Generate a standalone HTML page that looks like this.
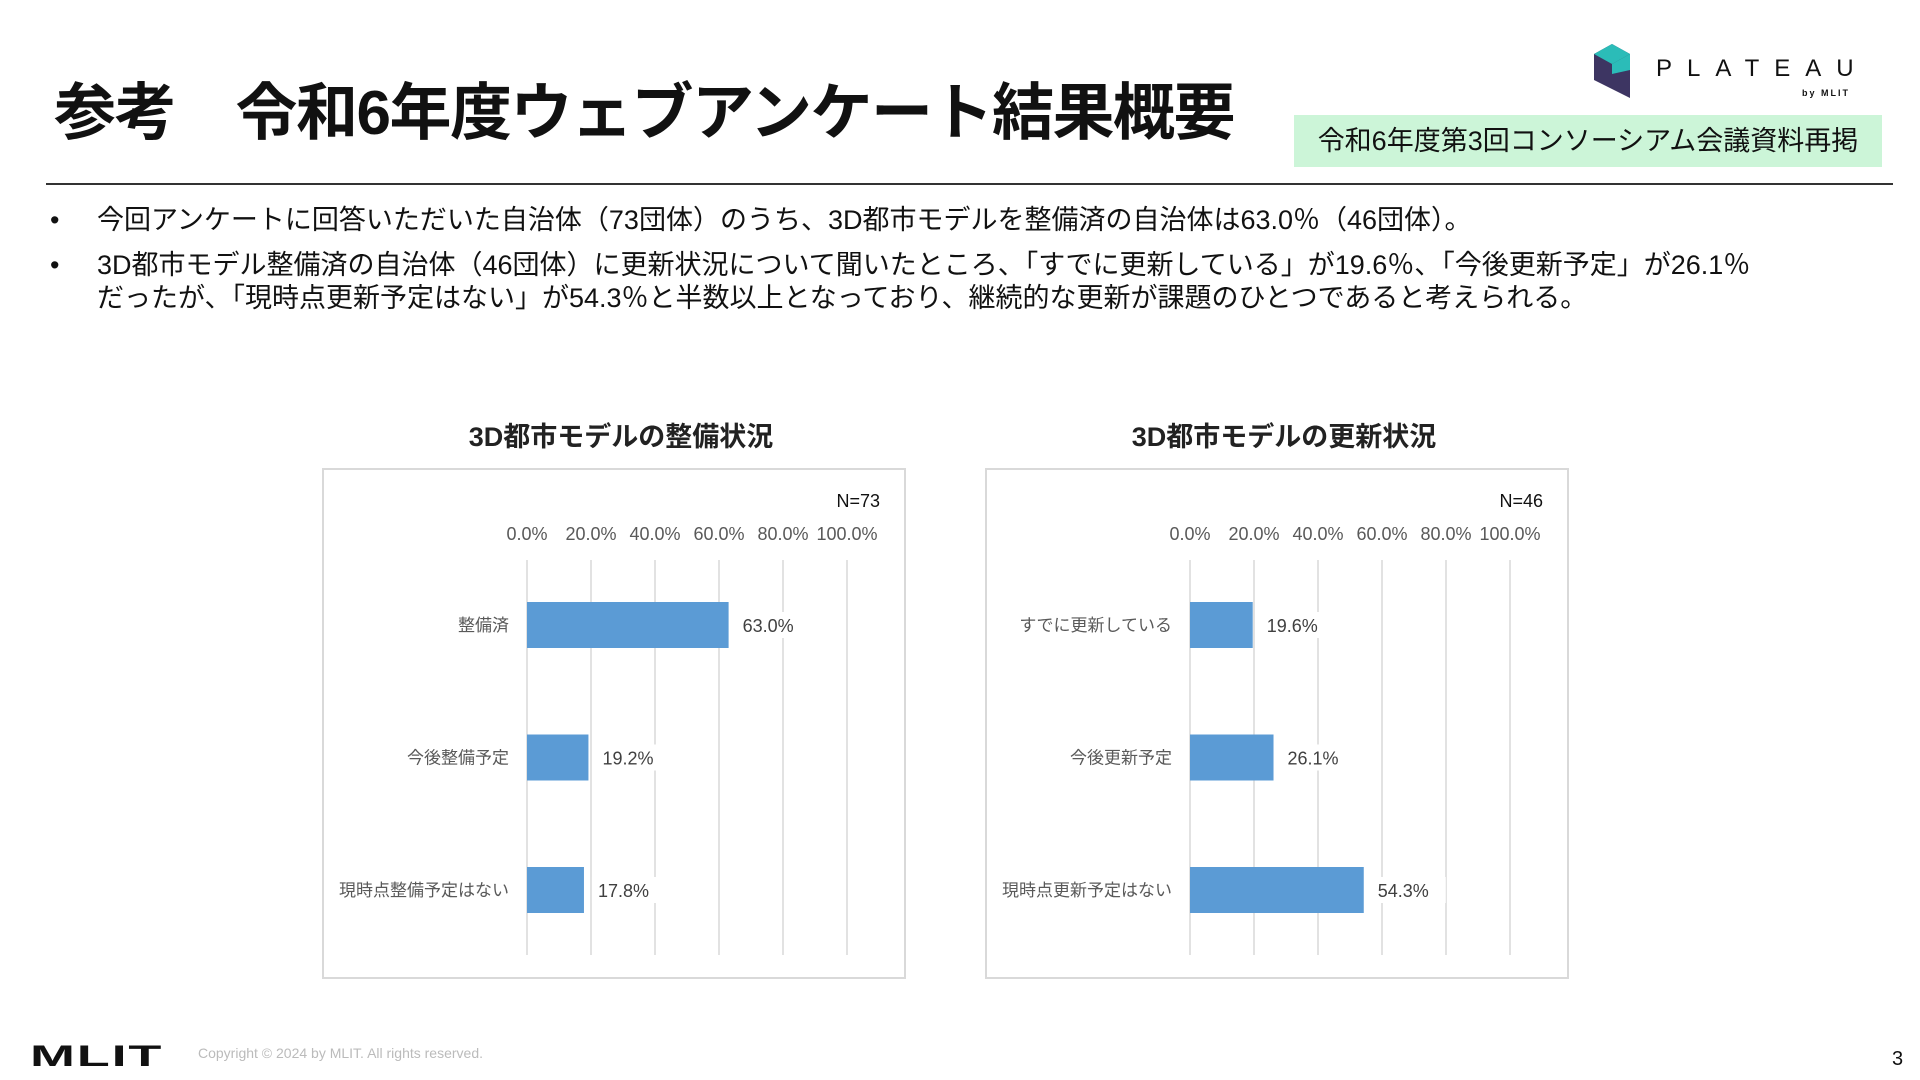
<!DOCTYPE html>
<html><head><meta charset="utf-8">
<style>
body{margin:0;width:1920px;height:1080px;background:#fff;position:relative;overflow:hidden;font-family:"Liberation Sans","Noto Sans CJK JP",sans-serif;color:#111}
.abs{position:absolute}
</style></head><body>
<div class="abs" style="left:54px;top:62px;font-size:62px;font-weight:bold;letter-spacing:-1.5px;white-space:nowrap">参考　令和6年度ウェブアンケート結果概要</div>
<div class="abs" style="left:1294px;top:115px;width:588px;height:52px;background:#ccf5d8;font-size:27px;line-height:52px;text-align:center;white-space:nowrap">令和6年度第3回コンソーシアム会議資料再掲</div>
<svg class="abs" style="left:1590px;top:40px" width="300" height="64" viewBox="0 0 300 64">
<polygon points="4,14 22,4 40,14 40,58 4,40" fill="#3d3562"/>
<polygon points="4,14 22,4 40,14 22,24" fill="#2bbcb8"/>
<polygon points="22,24 40,14 40,30 22,34" fill="#2bbcb8"/>
<text x="66" y="36" font-size="24" letter-spacing="15" fill="#111" font-family="Liberation Sans">PLATEAU</text>
<text x="212" y="56" font-size="9" fill="#111" font-weight="bold" letter-spacing="2">by MLIT</text>
</svg>
<div class="abs" style="left:46px;top:183px;width:1847px;height:2px;background:#333"></div>
<div class="abs" style="left:50px;top:204px;font-size:27px;line-height:33px;white-space:nowrap">
<div style="position:relative;height:33px"><span>•</span><span style="position:absolute;left:47px;top:0">今回アンケートに回答いただいた自治体（73団体）のうち、3D都市モデルを整備済の自治体は63.0％（46団体）。</span></div>
<div style="position:relative;margin-top:12px;height:66px"><span>•</span><span style="position:absolute;left:47px;top:0">3D都市モデル整備済の自治体（46団体）に更新状況について聞いたところ、「すでに更新している」が19.6％、「今後更新予定」が26.1％<br>だったが、「現時点更新予定はない」が54.3％と半数以上となっており、継続的な更新が課題のひとつであると考えられる。</span></div>
</div>
<svg class="abs" id="charts" style="left:0;top:0" width="1920" height="1080"></svg>
<div class="abs" style="left:30px;top:1040px;font-size:30px;font-weight:900;letter-spacing:1px;transform:scaleX(1.8);transform-origin:left">MLIT</div>
<div class="abs" style="left:198px;top:1045px;font-size:14px;color:#bbb">Copyright © 2024 by MLIT. All rights reserved.</div>
<div class="abs" style="left:1892px;top:1048px;font-size:20px">3</div>
<script>
const chart1Categories=["整備済","今後整備予定","現時点整備予定はない"];
const chart1Values=[63.0,19.2,17.8];
const chart2Categories=["すでに更新している","今後更新予定","現時点更新予定はない"];
const chart2Values=[19.6,26.1,54.3];
const tickValues=[0,20,40,60,80,100];
const tickLabels=["0.0%","20.0%","40.0%","60.0%","80.0%","100.0%"];
const svg=document.getElementById('charts');
const NS='http://www.w3.org/2000/svg';
function mk(t,a,txt){const e=document.createElementNS(NS,t);for(const k in a)e.setAttribute(k,a[k]);if(txt!==undefined)e.textContent=txt;svg.appendChild(e);return e;}
function drawChart(ox,title,n,cats,vals,key){
  const x0=ox+204,x1=ox+524;
  const xs=v=>x0+(x1-x0)*v/100;
  const ys=i=>625+i*132.5;
  let e=mk('text',{x:ox+298,y:446,'text-anchor':'middle','font-size':27,'font-weight':'bold',fill:'#222'},title);
  
  
  e=mk('rect',{x:ox,y:469,width:582,height:509,fill:'#fff',stroke:'#d9d9d9','stroke-width':2});
  
  
  e=mk('text',{x:ox+557,y:507,'text-anchor':'end','font-size':18,fill:'#111'},n);
  
  
  tickValues.forEach((t,i)=>{
    let g=mk('line',{x1:xs(t),x2:xs(t),y1:560,y2:955,stroke:'#d9d9d9','stroke-width':1.5});
    
    
    let l=mk('text',{x:xs(t),y:540,'text-anchor':'middle','font-size':18,fill:'#595959'},tickLabels[i]);
    
    
  });
  cats.forEach((c,i)=>{
    const y=ys(i);
    let r=mk('rect',{x:x0,y:y-23,width:xs(vals[i])-x0,height:46,fill:'#5b9bd5'});
    
    
    let bg=mk('rect',{x:xs(vals[i])+8,y:y-13,width:74,height:26,fill:'#fff'});
    
    
    let v=mk('text',{x:xs(vals[i])+14,y:y+7,'font-size':18,fill:'#404040'},vals[i].toFixed(1)+'%');
    
    
    let cl=mk('text',{x:x0-18,y:y+6,'text-anchor':'end','font-size':17,fill:'#595959'},c);
    
    
  });
}
drawChart(323,'3D都市モデルの整備状況','N=73',chart1Categories,chart1Values,'maintenance-chart');
drawChart(986,'3D都市モデルの更新状況','N=46',chart2Categories,chart2Values,'update-chart');
</script>
</body></html>
